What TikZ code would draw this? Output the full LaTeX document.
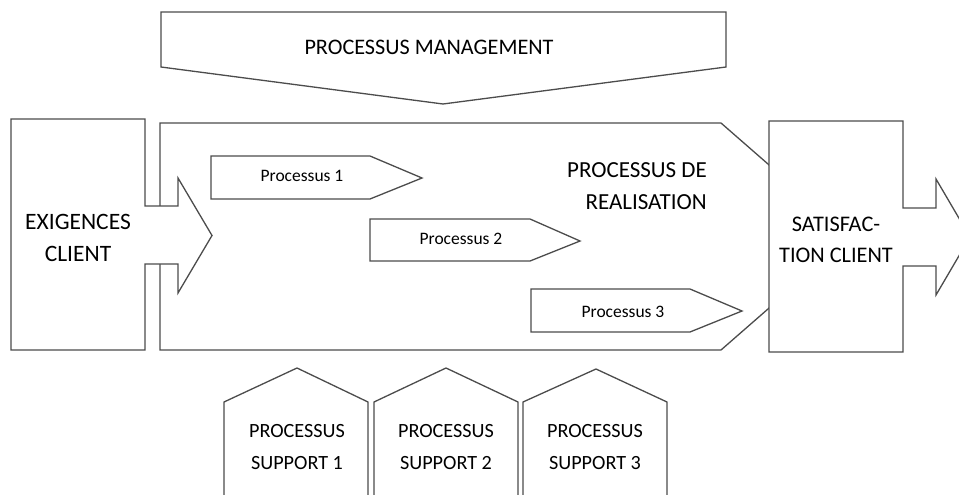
\documentclass[tikz,border=0pt]{standalone}
\usepackage{fontspec}
\setmainfont{Carlito}
\usepackage{tikz}

\begin{document}
\begin{tikzpicture}[
	x=1pt, y=-1pt,
	line join=miter,
	block/.style={draw=black!70,line width=1.3pt,fill=white},
	bigtxt/.style={inner sep=0,align=center,text=black,font=\fontsize{#1}{31.5}\selectfont},
	bigtxt/.default=21,
	smalltxt/.style={inner sep=0,text=black,font=\fontsize{17.5}{20}\selectfont}
	]
	\clip (0,0) rectangle (959,495);
	\fill[white] (0,0) rectangle (959,495);
	% management
	\draw[block] (161,12) -- (726,12) -- (726,67) -- (443,104) -- (161,67) -- cycle;
	\node [bigtxt=22.2] (mgmt) at (429,47) {PROCESSUS MANAGEMENT};
	% realisation
	\draw[block] (160,123) -- (721,123) -- (851,236.5) -- (721,350) -- (160,350) -- cycle;
	\node [bigtxt=23,align=right,anchor=east] (real) at (707,186) {PROCESSUS DE\\REALISATION};
	\draw[block] (211,156) -- (370,156) -- (422,178) -- (370,199) -- (211,199) -- cycle;
	\node [smalltxt] (p1) at (302,176) {Processus 1};
	\draw[block] (370,219) -- (530,219) -- (580,241) -- (530,261) -- (370,261) -- cycle;
	\node [smalltxt] (p2) at (461,239) {Processus 2};
	\draw[block] (531,289) -- (690,289) -- (742,311) -- (690,332) -- (531,332) -- cycle;
	\node [smalltxt] (p3) at (623,312) {Processus 3};
	% client
	\draw[block] (11,119) -- (145,119) -- (145,206) -- (178,206) -- (178,178) -- (212,235.5)
		-- (178,293) -- (178,264) -- (145,264) -- (145,350) -- (11,350) -- cycle;
	\node [bigtxt=23.5] (exig) at (78,238) {EXIGENCES\\CLIENT};
	\draw[block] (769,121) -- (903,121) -- (903,208) -- (936,208) -- (936,179) -- (970,237)
		-- (936,295) -- (936,266) -- (903,266) -- (903,352) -- (769,352) -- cycle;
	\node [bigtxt=22.3] (satis) at (836,240) {SATISFAC-\\TION CLIENT};
	% support
	\draw[block] (224,510) -- (224,402) -- (297,368) -- (368,402) -- (368,510);
	\node [bigtxt=20.2] (sup1) at (297,447) {PROCESSUS\\SUPPORT 1};
	\draw[block] (374,510) -- (374,402) -- (446,368) -- (518,402) -- (518,510);
	\node [bigtxt=20.2] (sup2) at (446,447) {PROCESSUS\\SUPPORT 2};
	\draw[block] (523,510) -- (523,402) -- (596,369) -- (667,402) -- (667,510);
	\node [bigtxt=20.2] (sup3) at (595,447) {PROCESSUS\\SUPPORT 3};
\end{tikzpicture}
\end{document}
